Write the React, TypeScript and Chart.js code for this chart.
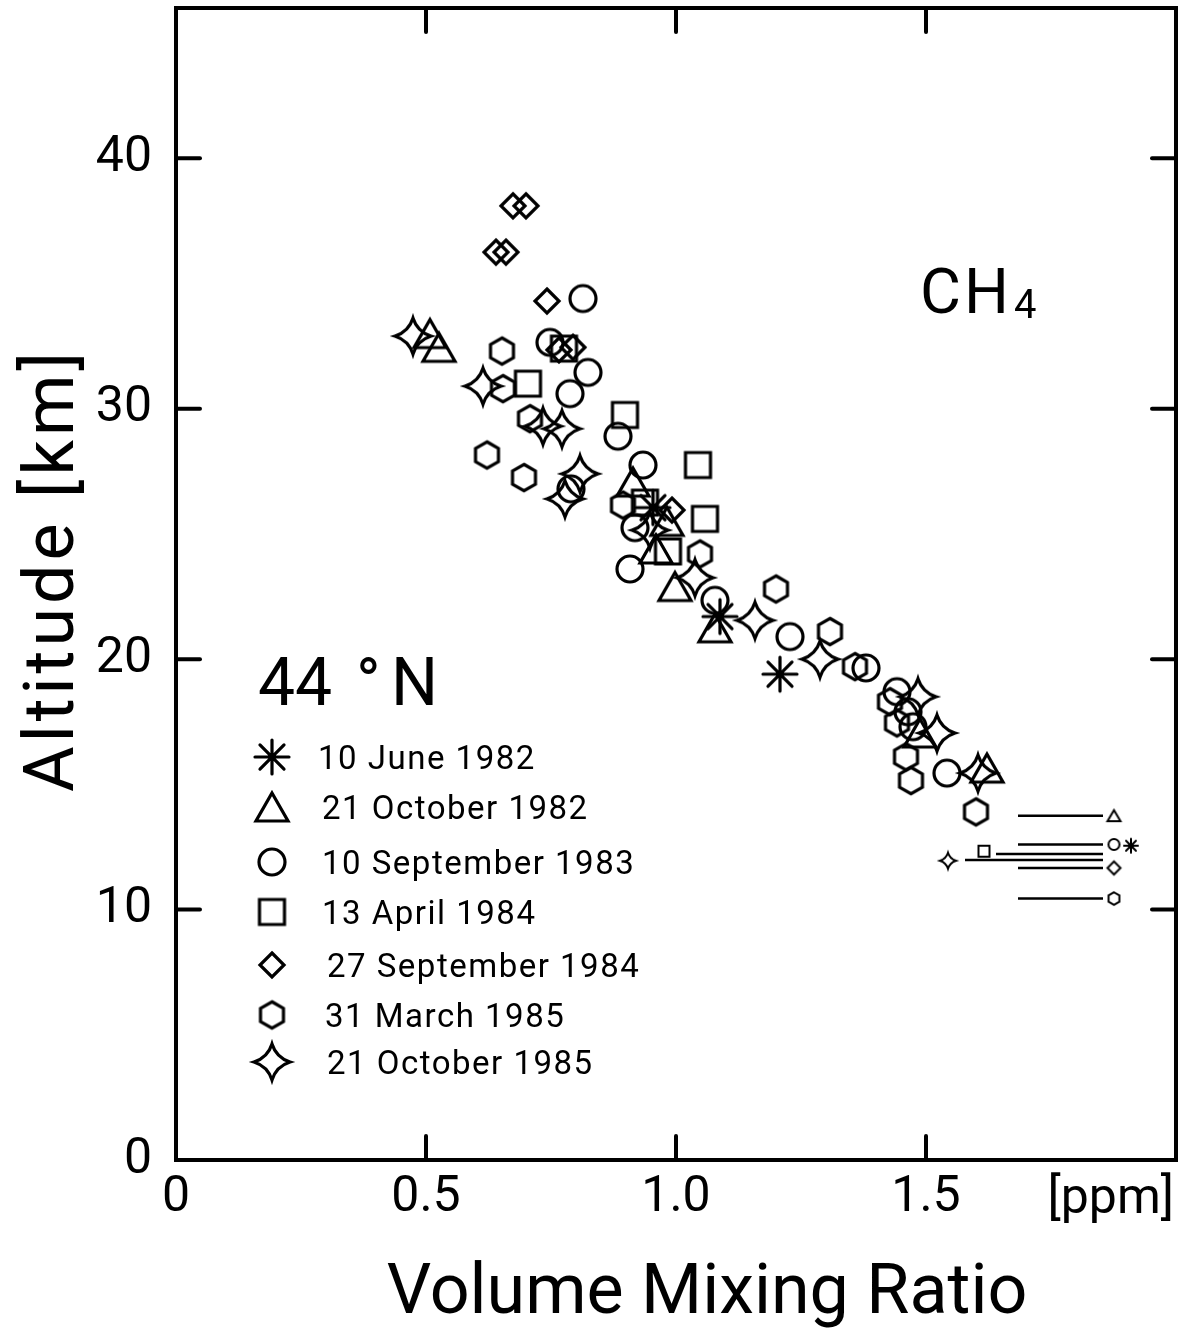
import React, { useEffect, useRef } from 'react';
import { Chart, registerables } from 'chart.js';

Chart.register(...registerables);

// ---------------- data ----------------
const seriesLabels = [
  '10 June 1982',
  '21 October 1982',
  '10 September 1983',
  '13 April 1984',
  '27 September 1984',
  '31 March 1985',
  '21 October 1985',
];
const seriesSymbols = ['asterisk', 'triangle', 'circle', 'square', 'diamond', 'hexagon', 'star4'];

// 10 June 1982 (asterisk)
const june1982Vmr = [0.954, 1.088, 1.208];
const june1982Alt = [26.05, 21.7, 19.4];

// 21 October 1982 (triangle)
const oct1982Vmr = [0.508, 0.526, 0.914, 0.982, 0.96, 0.998, 1.078, 1.488, 1.622];
const oct1982Alt = [33.0, 32.45, 27.07, 25.5, 24.4, 22.9, 21.25, 17.05, 15.65];

// 10 September 1983 (circle)
const sep1983Vmr = [0.814, 0.748, 0.824, 0.788, 0.884, 0.934, 0.79, 0.918, 0.908, 1.078, 1.228, 1.38, 1.442, 1.464, 1.474, 1.542];
const sep1983Alt = [34.4, 32.65, 31.45, 30.6, 28.9, 27.75, 26.8, 25.25, 23.6, 22.35, 20.9, 19.65, 18.7, 17.9, 17.3, 15.45];

// 13 April 1984 (square)
const apr1984Vmr = [0.776, 0.704, 0.898, 1.044, 0.938, 1.058, 0.984];
const apr1984Alt = [32.4, 31.0, 29.75, 27.75, 26.25, 25.6, 24.3];

// 27 September 1984 (diamond)
const sep1984Vmr = [0.674, 0.7, 0.64, 0.66, 0.742, 0.766, 0.794, 0.992];
const sep1984Alt = [38.1, 38.1, 36.25, 36.25, 34.3, 32.35, 32.45, 25.95];

// 31 March 1985 (hexagon)
const mar1985Vmr = [0.652, 0.654, 0.708, 0.622, 0.696, 0.894, 1.048, 1.2, 1.308, 1.358, 1.428, 1.442, 1.46, 1.47, 1.6];
const mar1985Alt = [32.3, 30.8, 29.6, 28.15, 27.25, 26.15, 24.2, 22.8, 21.1, 19.7, 18.3, 17.45, 16.1, 15.15, 13.9];

// 21 October 1985 (four-pointed star)
const oct1985Vmr = [0.474, 0.614, 0.734, 0.772, 0.808, 0.778, 0.948, 1.038, 1.158, 1.288, 1.484, 1.522, 1.604];
const oct1985Alt = [32.9, 30.9, 29.3, 29.2, 27.4, 26.4, 25.15, 23.25, 21.55, 20.0, 18.5, 17.05, 15.45];

const seriesVmr = [june1982Vmr, oct1982Vmr, sep1983Vmr, apr1984Vmr, sep1984Vmr, mar1985Vmr, oct1985Vmr];
const seriesAlt = [june1982Alt, oct1982Alt, sep1983Alt, apr1984Alt, sep1984Alt, mar1985Alt, oct1985Alt];

// tropopause markers (one per series, same order) and their lines
const tropoMarkerVmr = [1.91, 1.876, 1.876, 1.616, 1.876, 1.876, 1.544];
const tropoMarkerAlt = [12.55, 13.75, 12.6, 12.33, 11.66, 10.44, 11.95];
const tropoLineStart = [null, 1.684, 1.684, 1.64, 1.684, 1.684, 1.578];
const tropoLineEnd = [null, 1.854, 1.854, 1.854, 1.854, 1.854, 1.854];
const tropoLineAlt = [null, 13.75, 12.6, 12.22, 11.66, 10.44, 11.98];

// axes
const xTickValues = [0, 0.5, 1.0, 1.5];
const xTickLabels = ['0', '0.5', '1.0', '1.5'];
const yTickValues = [0, 10, 20, 30, 40];
const yTickLabels = ['0', '10', '20', '30', '40'];

// ---------------- marker drawing ----------------
type Kind = 'asterisk' | 'triangle' | 'circle' | 'square' | 'diamond' | 'hexagon' | 'star4';

const bigSize: Record<string, [number, number]> = {
  asterisk: [34, 34],
  triangle: [32, 28],
  circle: [26, 26],
  square: [25, 25],
  diamond: [24, 24],
  hexagon: [23, 26.5],
  star4: [36, 36],
};
const smallSize: Record<string, [number, number]> = {
  asterisk: [14, 14],
  triangle: [13, 11],
  circle: [11, 11],
  square: [11, 11],
  diamond: [13, 13],
  hexagon: [11, 12.5],
  star4: [16, 16],
};

function makeMarker(kind: Kind, w: number, h: number, lw: number): HTMLCanvasElement {
  const pad = Math.ceil(lw) + 2;
  const cw = Math.ceil(w) + pad * 2;
  const ch = Math.ceil(h) + pad * 2;
  const c = document.createElement('canvas');
  c.width = cw;
  c.height = ch;
  const g = c.getContext('2d')!;
  g.translate(cw / 2, ch / 2);
  g.strokeStyle = '#000';
  g.lineWidth = lw;
  g.lineJoin = 'miter';
  g.lineCap = 'round';
  g.beginPath();
  const rx = w / 2;
  const ry = h / 2;
  switch (kind) {
    case 'asterisk':
      for (let k = 0; k < 4; k++) {
        const a = (k * Math.PI) / 4;
        g.moveTo(Math.cos(a) * rx, Math.sin(a) * ry);
        g.lineTo(-Math.cos(a) * rx, -Math.sin(a) * ry);
      }
      break;
    case 'triangle':
      g.moveTo(0, -ry);
      g.lineTo(rx, ry);
      g.lineTo(-rx, ry);
      g.closePath();
      break;
    case 'circle':
      g.arc(0, 0, rx, 0, Math.PI * 2);
      break;
    case 'square':
      g.rect(-rx, -ry, w, h);
      break;
    case 'diamond':
      g.moveTo(0, -ry);
      g.lineTo(rx, 0);
      g.lineTo(0, ry);
      g.lineTo(-rx, 0);
      g.closePath();
      break;
    case 'hexagon':
      for (let k = 0; k < 6; k++) {
        const a = -Math.PI / 2 + (k * Math.PI) / 3;
        const px = Math.cos(a) * ry;
        const py = Math.sin(a) * ry;
        if (k === 0) g.moveTo(px, py);
        else g.lineTo(px, py);
      }
      g.closePath();
      break;
    case 'star4': {
      const k = 0.24;
      g.moveTo(0, -ry);
      g.quadraticCurveTo(k * rx, -k * ry, rx, 0);
      g.quadraticCurveTo(k * rx, k * ry, 0, ry);
      g.quadraticCurveTo(-k * rx, k * ry, -rx, 0);
      g.quadraticCurveTo(-k * rx, -k * ry, 0, -ry);
      g.closePath();
      break;
    }
  }
  g.stroke();
  return c;
}

const FONT = 'Roboto, "DejaVu Sans", sans-serif';

export default function App() {
  const ref = useRef<HTMLCanvasElement | null>(null);

  useEffect(() => {
    const canvas = ref.current;
    if (!canvas) return;

    const big = seriesSymbols.map((s) => makeMarker(s as Kind, bigSize[s][0], bigSize[s][1], 3.2));
    const small = seriesSymbols.map((s) => makeMarker(s as Kind, smallSize[s][0], smallSize[s][1], 2));

    const datasets: any[] = [];
    seriesLabels.forEach((label, i) => {
      if (tropoLineStart[i] !== null) {
        datasets.push({
          label: label + ' tropopause line',
          data: [
            { x: tropoLineStart[i], y: tropoLineAlt[i] },
            { x: tropoLineEnd[i], y: tropoLineAlt[i] },
          ],
          showLine: true,
          borderColor: '#000',
          borderWidth: 2.5,
          pointRadius: 0,
          pointHoverRadius: 0,
          fill: false,
        });
      }
    });
    seriesLabels.forEach((label, i) => {
      datasets.push({
        label: label + ' tropopause',
        data: [{ x: tropoMarkerVmr[i], y: tropoMarkerAlt[i] }],
        pointStyle: small[i],
        pointRadius: 6,
        pointHoverRadius: 6,
        showLine: false,
      });
    });
    seriesLabels.forEach((label, i) => {
      datasets.push({
        label,
        data: seriesVmr[i].map((v, j) => ({ x: v, y: seriesAlt[i][j] })),
        pointStyle: big[i],
        pointRadius: 12,
        pointHoverRadius: 12,
        showLine: false,
      });
    });

    const line = (ctx: CanvasRenderingContext2D, x1: number, y1: number, x2: number, y2: number) => {
      ctx.beginPath();
      ctx.moveTo(x1, y1);
      ctx.lineTo(x2, y2);
      ctx.stroke();
    };

    const decor = {
      id: 'decor',
      afterDraw(chart: any) {
        const { ctx, chartArea: a } = chart;
        const xs = chart.scales.x;
        const ys = chart.scales.y;
        ctx.save();
        ctx.strokeStyle = '#000';
        ctx.fillStyle = '#000';
        // frame
        ctx.lineWidth = 4;
        ctx.lineJoin = 'miter';
        ctx.strokeRect(a.left, a.top, a.right - a.left, a.bottom - a.top);
        // inward ticks
        ctx.lineCap = 'round';
        const TL = 24;
        xTickValues.forEach((v) => {
          if (v === 0) return;
          const px = xs.getPixelForValue(v);
          line(ctx, px, a.bottom, px, a.bottom - TL);
          line(ctx, px, a.top, px, a.top + TL);
        });
        yTickValues.forEach((v) => {
          if (v === 0) return;
          const py = ys.getPixelForValue(v);
          line(ctx, a.left, py, a.left + TL, py);
          line(ctx, a.right, py, a.right - TL, py);
        });

        // unit label on the x axis
        ctx.textAlign = 'right';
        ctx.textBaseline = 'alphabetic';
        ctx.font = `50px ${FONT}`;
        ctx.fillText('[ppm]', a.right - 2, 1213);

        // axis titles
        ctx.font = `70px ${FONT}`;
        ctx.textAlign = 'center';
        ctx.fillText('Volume Mixing Ratio', 707, 1313);
        ctx.save();
        ctx.translate(73, 570);
        ctx.rotate(-Math.PI / 2);
        (ctx as any).letterSpacing = '4px';
        ctx.fillText('Altitude [km]', 0, 0);
        ctx.restore();

        // CH4
        ctx.textAlign = 'left';
        ctx.save();
        (ctx as any).letterSpacing = '3px';
        ctx.font = `63px ${FONT}`;
        ctx.fillText('CH', 920, 313);
        const chW = ctx.measureText('CH').width;
        ctx.font = `40px ${FONT}`;
        ctx.fillText('4', 920 + chW + 2, 318);
        ctx.restore();

        // latitude
        ctx.font = `66px ${FONT}`;
        ctx.fillText('44', 258, 705);
        ctx.fillText('°', 356, 705);
        ctx.fillText('N', 391, 705);

        // legend
        const rowY = [757, 807, 862, 912, 965, 1015, 1062];
        const textX = [318, 322, 322, 322, 327, 325, 327];
        ctx.save();
        ctx.font = `33px ${FONT}`;
        (ctx as any).letterSpacing = '1.5px';
        ctx.textBaseline = 'alphabetic';
        seriesLabels.forEach((label, i) => {
          const m = big[i];
          ctx.drawImage(m, 272 - m.width / 2, rowY[i] - m.height / 2);
          ctx.fillText(label, textX[i], rowY[i] + 12);
        });
        ctx.restore();
        ctx.restore();
      },
    };

    const chart = new Chart(canvas, {
      type: 'scatter',
      data: { datasets },
      options: {
        responsive: false,
        animation: false,
        devicePixelRatio: 1,
        events: [],
        layout: { autoPadding: false, padding: { top: 8, right: 20, left: 0, bottom: 0 } },
        plugins: { legend: { display: false }, tooltip: { enabled: false } },
        scales: {
          x: {
            type: 'linear',
            position: 'bottom',
            min: 0,
            max: 2,
            afterBuildTicks: (s: any) => {
              s.ticks = xTickValues.map((v) => ({ value: v }));
            },
            afterFit: (s: any) => {
              s.height = 170;
              s.paddingLeft = 0;
              s.paddingRight = 0;
            },
            ticks: {
              autoSkip: false,
              maxRotation: 0,
              padding: 8,
              color: '#000',
              font: { family: FONT, size: 50 },
              callback: (v: any) => xTickLabels[xTickValues.indexOf(Number(v))] ?? '',
            },
            grid: { display: false, drawTicks: false },
            border: { display: false },
          },
          y: {
            type: 'linear',
            position: 'left',
            min: 0,
            max: 46,
            afterBuildTicks: (s: any) => {
              s.ticks = yTickValues.map((v) => ({ value: v }));
            },
            afterFit: (s: any) => {
              s.width = 176;
              s.paddingTop = 0;
              s.paddingBottom = 0;
            },
            ticks: {
              autoSkip: false,
              padding: 24,
              color: '#000',
              font: { family: FONT, size: 50 },
              callback: (v: any) => yTickLabels[yTickValues.indexOf(Number(v))] ?? '',
            },
            grid: { display: false, drawTicks: false },
            border: { display: false },
          },
        },
      },
      plugins: [decor],
    });

    return () => chart.destroy();
  }, []);

  return (
    <div style={{ position: 'absolute', left: 0, top: 0, width: 1196, height: 1330, background: '#fff' }}>
      <canvas ref={ref} width={1196} height={1330} style={{ width: 1196, height: 1330, display: 'block' }} />
    </div>
  );
}
